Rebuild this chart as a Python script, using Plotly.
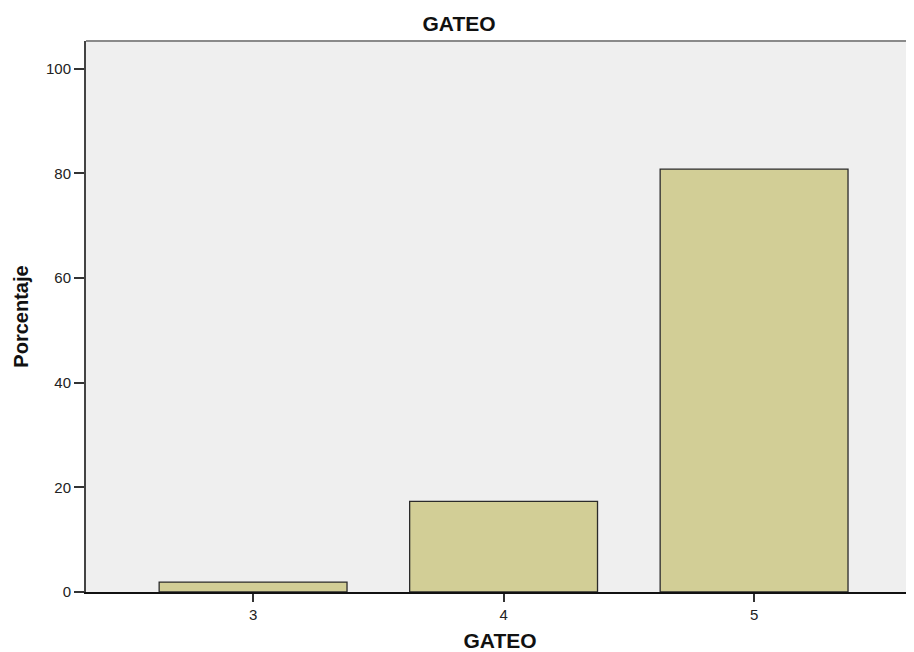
import plotly.graph_objects as go

categories = ["3", "4", "5"]
cat_values = [3, 4, 5]
percentages = [1.9, 17.3, 80.8]
y_ticks = [0, 20, 40, 60, 80, 100]

# The page puts the figure 8px in from the top-left corner
OFF = 8
W, H = 914 - OFF, 652 - OFF
left, top = 86 - OFF, 41 - OFF
axis_y = 592.5 - OFF
bottom = H - axis_y

fig = go.Figure(
    go.Bar(
        x=cat_values,
        y=percentages,
        width=0.75,
        marker=dict(color="#D2CE96", line=dict(color="#2b2b2b", width=1.3)),
        hoverinfo="x+y",
    )
)

fig.update_layout(
    width=W,
    height=H,
    margin=dict(l=left, r=0, t=top, b=bottom, pad=0),
    paper_bgcolor="white",
    plot_bgcolor="#EFEFEF",
    showlegend=False,
    font=dict(family="Liberation Sans, Arial, sans-serif", color="#222222", size=15),
    title=dict(
        text="<b>GATEO</b>",
        x=(459 - OFF) / W,
        xanchor="center",
        y=1 - (24 - OFF) / H,
        yanchor="middle",
        yref="container",
        font=dict(size=21, color="#111111"),
    ),
    shapes=[
        dict(
            type="line", xref="paper", yref="paper",
            x0=0, x1=1, y0=1, y1=1,
            line=dict(color="#8a8a8a", width=2),
        )
    ],
)

fig.update_xaxes(
    range=[2.333, 2.333 + (914 - 86) / 250.5],
    tickmode="array",
    tickvals=cat_values,
    ticktext=categories,
    ticks="outside",
    ticklen=8,
    tickwidth=1.5,
    tickcolor="#333333",
    showline=True,
    linecolor="#111111",
    linewidth=1.5,
    showgrid=False,
    zeroline=False,
    tickfont=dict(size=15),
    title=dict(text="<b>GATEO</b>", font=dict(size=21, color="#111111"), standoff=12),
)

fig.update_yaxes(
    range=[0, 105.3],
    tickmode="array",
    tickvals=y_ticks,
    ticktext=[str(v) for v in y_ticks],
    ticks="outside",
    ticklen=10,
    tickwidth=1.5,
    tickcolor="#333333",
    showline=True,
    linecolor="#444444",
    linewidth=2,
    showgrid=False,
    zeroline=False,
    tickfont=dict(size=15),
    title=dict(text="<b>Porcentaje</b>", font=dict(size=20, color="#111111"), standoff=12),
)

fig.write_html("out.html")
